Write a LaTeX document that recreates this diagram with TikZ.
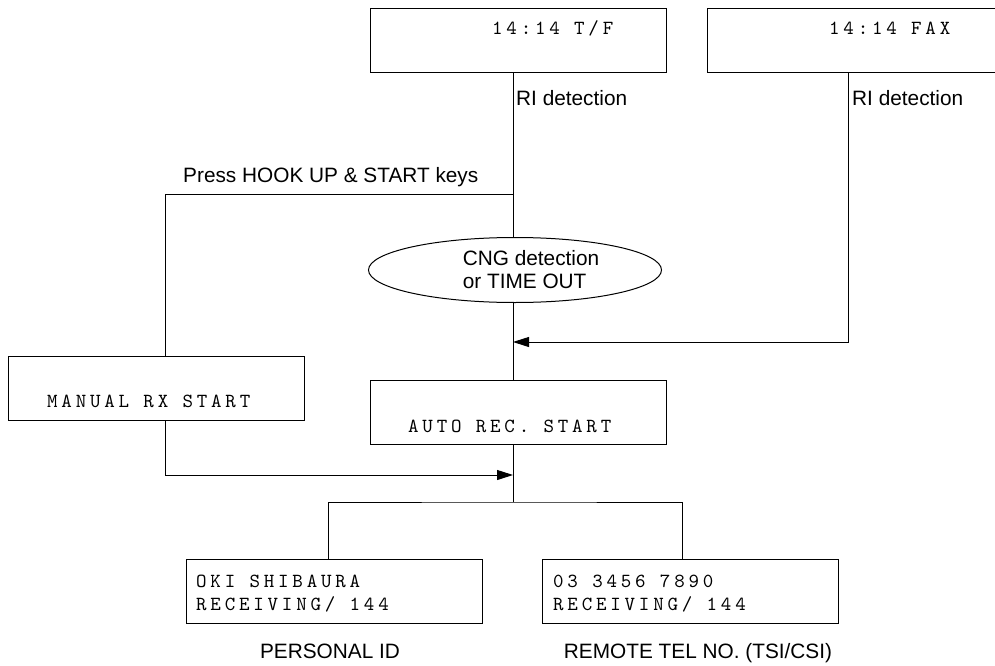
\documentclass[tikz,border=0pt]{standalone}
\usepackage{fontspec}
\usetikzlibrary{arrows.meta,shapes.geometric}
\newfontfamily\labelfont{Liberation Sans}
\newfontfamily\lcdfont[LetterSpace=19,Extension=.otf]{lmmono10-regular}

\begin{document}
\begin{tikzpicture}[
  x=1pt, y=-1pt,
  box/.style={draw, line width=1pt, minimum width=296pt, minimum height=64pt, inner sep=0pt},
  lcd/.style={font=\lcdfont\fontsize{20}{22}\selectfont, inner sep=0pt, anchor=base west},
  lbl/.style={font=\labelfont\fontsize{20.8}{23}\selectfont, inner sep=0pt, anchor=base west},
  line/.style={line width=1pt},
  arrow/.style={-{Triangle[length=16pt, width=10pt]}, line width=1pt}
]
\useasboundingbox (0,0) rectangle (995,666);

% display boxes
\node[box] (tf) at (518,41) {};
\node[box] (fax) at (855,41) {};
\node[draw, ellipse, line width=1pt, minimum width=293pt, minimum height=65pt] (cng) at (515,270) {};
\node[box] (manual) at (156,388) {};
\node[box] (auto) at (518.5,412) {};
\node[box] (pid) at (334,591) {};
\node[box] (tel) at (690.5,591) {};

% display texts
\node[lcd] (tftxt) at (492,35) {14:14 T/F};
\node[lcd] (faxtxt) at (829,35) {14:14 FAX};
\node[lcd] (mantxt) at (47,407) {MANUAL RX START};
\node[lcd] (autotxt) at (408,432) {AUTO REC. START};
\node[lcd] (pidline1) at (196,587) {OKI SHIBAURA};
\node[lcd] (pidline2) at (196,610) {RECEIVING/ 144};
\node[lcd] (telline1) at (553,587) {03 3456 7890};
\node[lcd] (telline2) at (553,610) {RECEIVING/ 144};

% labels
\node[lbl] (ri1) at (516,106) {RI detection};
\node[lbl] (ri2) at (852,106) {RI detection};
\node[lbl] (hooktxt) at (183,182) {Press HOOK UP \& START keys};
\node[lbl, align=left, anchor=center] (cngtxt) at (531,270) {CNG detection\\or TIME OUT};
\node[lbl, anchor=base] (pidtxt) at (330,658) {PERSONAL ID};
\node[lbl, anchor=base] (teltxt) at (698,658) {REMOTE TEL NO. (TSI/CSI)};

% junctions
\coordinate (spine) at (513,0);
\coordinate (hook) at (165,194);
\coordinate (faxin) at (513,342);
\coordinate (faxdrop) at (848,342);
\coordinate (manin) at (513,475);
\coordinate (split) at (513,502);
\coordinate (lsplit) at (328,502);
\coordinate (rsplit) at (682,502);

\draw[line] (tf.south -| spine) -- (cng.north -| spine);
\draw[line] (hook -| spine) -- (hook) -- (manual.north -| hook);
\draw[line] (cng.south -| spine) -- (auto.north -| spine);
\draw[arrow] (fax.south -| faxdrop) |- (faxin);
\draw[arrow] (manual.south -| hook) |- (manin);
\draw[line] (auto.south -| spine) -- (split);
\draw[line] (pid.north -| lsplit) |- (split) -| (tel.north -| rsplit);
\end{tikzpicture}
\end{document}
